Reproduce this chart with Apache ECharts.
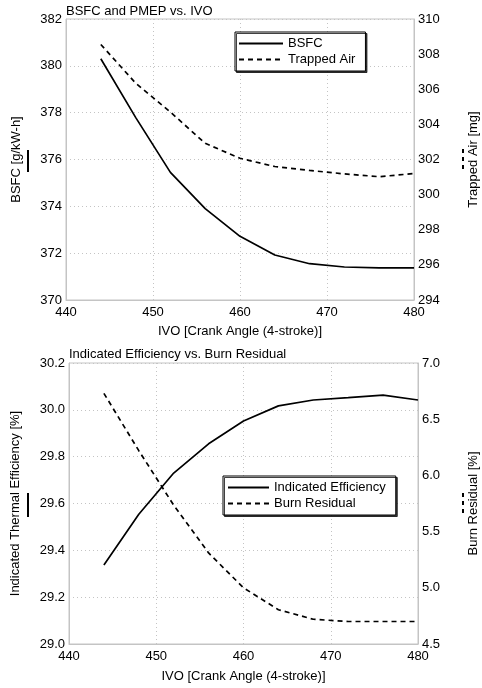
<!DOCTYPE html>
<html>
<head>
<meta charset="utf-8">
<script src="https://cdn.jsdelivr.net/npm/echarts@6/dist/echarts.min.js"></script>
<style>
  html, body { margin: 0; padding: 0; background: #fff; }
  #chart { width: 482px; height: 688px; }
</style>
</head>
<body>
<div id="chart"></div>
<script>
// Intake valve opening sweep (crank angle, 4-stroke)
var ivo = [444, 448, 452, 456, 460, 464, 468, 472, 476, 480];

// Upper panel: brake specific fuel consumption and trapped air mass
var bsfc = [380.3, 377.8, 375.45, 373.9, 372.72, 371.92, 371.55, 371.41, 371.37, 371.37];
var trappedAir = [308.55, 306.35, 304.7, 302.92, 302.07, 301.6, 301.38, 301.18, 301.02, 301.2];

// Lower panel: indicated thermal efficiency and burned residual fraction
var indicatedEfficiency = [29.337, 29.554, 29.73, 29.855, 29.952, 30.017, 30.042, 30.052, 30.063, 30.042];
var burnResidual = [6.73, 6.22, 5.735, 5.31, 5.0, 4.805, 4.72, 4.70, 4.70, 4.70];

// Axis ranges and tick steps
var ivoRange = [440, 480, 10];
var bsfcRange = [370, 382, 2];
var trappedAirRange = [294, 310, 2];
var effRange = [29.0, 30.2, 0.2];
var residualRange = [4.5, 7.0, 0.5];

var titles = ['BSFC and PMEP vs. IVO', 'Indicated Efficiency vs. Burn Residual'];
var xName = 'IVO [Crank Angle (4-stroke)]';

function pairs(xs, ys) {
  return xs.map(function (x, i) { return [x, ys[i]]; });
}

var FONT = '"Liberation Sans", Arial, Helvetica, sans-serif';
var TXT = '#000';
var GRID_GRAY = '#c4c4c4';

function xAxisFor(gridIndex, gap) {
  return {
    type: 'value', gridIndex: gridIndex,
    min: ivoRange[0], max: ivoRange[1], interval: ivoRange[2],
    name: xName, nameLocation: 'middle', nameGap: gap,
    nameTextStyle: { color: TXT, fontSize: 13, fontFamily: FONT },
    axisLine: { show: true, lineStyle: { color: GRID_GRAY } },
    axisTick: { show: false },
    axisLabel: { color: TXT, fontSize: 13, fontFamily: FONT, margin: 6 },
    splitLine: { show: true, lineStyle: { color: GRID_GRAY, type: [1, 3], width: 1 } }
  };
}

function yAxisFor(gridIndex, range, name, pos, gap, grid, decimals) {
  return {
    type: 'value', gridIndex: gridIndex, position: pos,
    min: range[0], max: range[1], interval: range[2],
    name: name, nameLocation: 'middle', nameRotate: 90, nameGap: gap,
    nameTextStyle: { color: TXT, fontSize: 13, fontFamily: FONT },
    axisLine: { show: true, lineStyle: { color: GRID_GRAY } },
    axisTick: { show: false },
    axisLabel: {
      color: TXT, fontSize: 13, fontFamily: FONT, margin: 4,
      formatter: function (v) { return v.toFixed(decimals); }
    },
    splitLine: { show: grid, lineStyle: { color: GRID_GRAY, type: [1, 3], width: 1 } }
  };
}

function lineSeries(name, xi, yi, data, dashed) {
  return {
    name: name, type: 'line', xAxisIndex: xi, yAxisIndex: yi,
    data: data, symbol: 'none', smooth: false, animation: false,
    lineStyle: { color: '#000', width: 1.7, type: dashed ? [5, 4] : 'solid' },
    itemStyle: { color: '#000' }
  };
}

function legendBox(names, left, top, pad) {
  return {
    orient: 'vertical', left: left, top: top,
    data: names,
    itemWidth: pad.w, itemHeight: 14, itemGap: 3,
    padding: pad.p,
    backgroundColor: '#fff',
    borderColor: '#000', borderWidth: 1, borderRadius: 0,
    shadowColor: 'rgba(0,0,0,0.75)', shadowBlur: 0, shadowOffsetX: 1.5, shadowOffsetY: 1.5,
    // line-only swatches, no point marker
    itemStyle: { opacity: 0, borderWidth: 0 },
    textStyle: { color: TXT, fontSize: 13, fontFamily: FONT },
    selectedMode: false
  };
}

// Short line swatches that sit beside the rotated y-axis names
function swatch(x, y1, y2, dashed) {
  return {
    type: 'line', silent: true,
    shape: { x1: x, y1: y1, x2: x, y2: y2 },
    style: { stroke: '#000', lineWidth: 2, lineDash: dashed ? [4, 4] : null }
  };
}

var chart = echarts.init(document.getElementById('chart'), null, { renderer: 'canvas' });

chart.setOption({
  backgroundColor: '#fff',
  animation: false,
  title: [
    { text: titles[0], left: 66, top: 5, padding: 0,
      textStyle: { color: TXT, fontSize: 13, fontWeight: 'normal', fontFamily: FONT } },
    { text: titles[1], left: 69, top: 348, padding: 0,
      textStyle: { color: TXT, fontSize: 13, fontWeight: 'normal', fontFamily: FONT } }
  ],
  grid: [
    { left: 66, right: 68, top: 19, height: 281, outerBoundsMode: 'none',
      show: true, borderColor: GRID_GRAY, borderWidth: 1, backgroundColor: '#fff' },
    { left: 69, right: 64, top: 363, height: 281, outerBoundsMode: 'none',
      show: true, borderColor: GRID_GRAY, borderWidth: 1, backgroundColor: '#fff' }
  ],
  xAxis: [xAxisFor(0, 25), xAxisFor(1, 26)],
  yAxis: [
    yAxisFor(0, bsfcRange, 'BSFC [g/kW-h]', 'left', 43, true, 0),
    yAxisFor(0, trappedAirRange, 'Trapped Air [mg]', 'right', 53, false, 0),
    yAxisFor(1, effRange, 'Indicated Thermal Efficiency [%]', 'left', 47, true, 1),
    yAxisFor(1, residualRange, 'Burn Residual [%]', 'right', 49, false, 1)
  ],
  legend: [
    legendBox(['BSFC', 'Trapped Air'], 235, 32, { w: 44, p: [5, 10, 5, 3] }),
    legendBox(['Indicated Efficiency', 'Burn Residual'], 223, 476, { w: 41, p: [5, 10, 5, 4] })
  ],
  series: [
    lineSeries('BSFC', 0, 0, pairs(ivo, bsfc), false),
    lineSeries('Trapped Air', 0, 1, pairs(ivo, trappedAir), true),
    lineSeries('Indicated Efficiency', 1, 2, pairs(ivo, indicatedEfficiency), false),
    lineSeries('Burn Residual', 1, 3, pairs(ivo, burnResidual), true)
  ],
  graphic: [
    swatch(28, 150, 172, false),
    swatch(463, 149, 172, true),
    swatch(28, 493, 517, false),
    swatch(463, 493, 517, true)
  ]
});
</script>
</body>
</html>
